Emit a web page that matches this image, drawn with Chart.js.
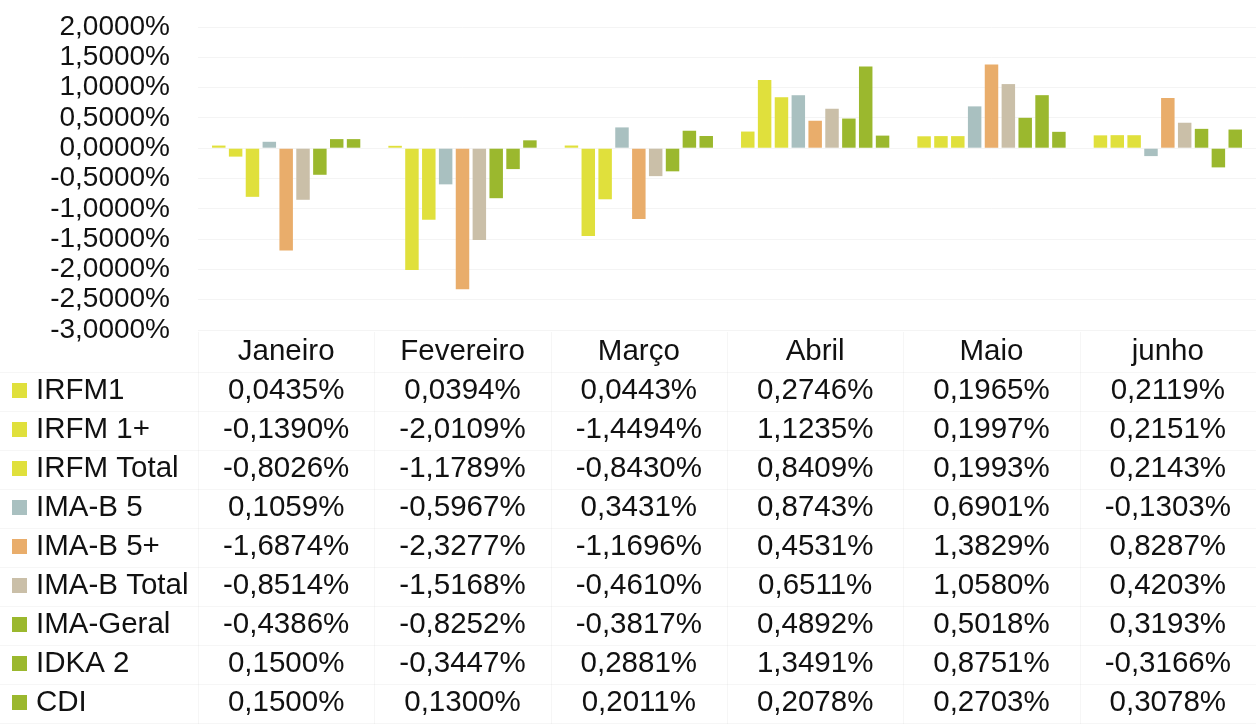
<!DOCTYPE html>
<html>
<head>
<meta charset="utf-8">
<script src="https://cdn.jsdelivr.net/npm/chart.js@4"></script>
<style>
  html, body { margin: 0; padding: 0; background: #fff; }
  #wrap { width: 1256px; height: 724px; }
</style>
</head>
<body>
<div id="wrap"><canvas id="myChart" width="1256" height="724"></canvas></div>
<script>
// data block

const months = ['Janeiro', 'Fevereiro', 'Março', 'Abril', 'Maio', 'junho'];

const irfm1      = [0.0435, 0.0394, 0.0443, 0.2746, 0.1965, 0.2119];
const irfm1Plus  = [-0.1390, -2.0109, -1.4494, 1.1235, 0.1997, 0.2151];
const irfmTotal  = [-0.8026, -1.1789, -0.8430, 0.8409, 0.1993, 0.2143];
const imaB5      = [0.1059, -0.5967, 0.3431, 0.8743, 0.6901, -0.1303];
const imaB5Plus  = [-1.6874, -2.3277, -1.1696, 0.4531, 1.3829, 0.8287];
const imaBTotal  = [-0.8514, -1.5168, -0.4610, 0.6511, 1.0580, 0.4203];
const imaGeral   = [-0.4386, -0.8252, -0.3817, 0.4892, 0.5018, 0.3193];
const idka2      = [0.1500, -0.3447, 0.2881, 1.3491, 0.8751, -0.3166];
const cdi        = [0.1500, 0.1300, 0.2011, 0.2078, 0.2703, 0.3078];

const yTicks = [2, 1.5, 1, 0.5, 0, -0.5, -1, -1.5, -2, -2.5, -3];

const yellow = '#e0e03c';
const green = '#9bb82e';

function fmt(v) {
  return v.toFixed(4).replace('.', ',') + '%';
}

const data = {
  labels: months,
  datasets: [
    { label: 'IRFM1', data: irfm1, backgroundColor: yellow },
    { label: 'IRFM 1+', data: irfm1Plus, backgroundColor: yellow },
    { label: 'IRFM Total', data: irfmTotal, backgroundColor: yellow },
    { label: 'IMA-B 5', data: imaB5, backgroundColor: '#a9c0c0' },
    { label: 'IMA-B 5+', data: imaB5Plus, backgroundColor: '#e9ad6b' },
    { label: 'IMA-B Total', data: imaBTotal, backgroundColor: '#cabfa8' },
    { label: 'IMA-Geral', data: imaGeral, backgroundColor: green },
    { label: 'IDKA 2', data: idka2, backgroundColor: green },
    { label: 'CDI', data: cdi, backgroundColor: green },
  ]
};

const FAMILY = '"Liberation Sans", Arial, sans-serif';
const FONT = '29.5px ' + FAMILY;
const TEXT = '#111';

// data table drawn under the plot, columns follow the x scale
const dataTable = {
  id: 'dataTable',
  afterDraw(chart) {
    const ctx = chart.ctx;
    const x = chart.scales.x;
    const left = 198;
    const right = chart.width;
    const headerY = 352;
    const rowH = 39;
    const firstRow = 391;

    ctx.save();

    // faint table lines
    ctx.strokeStyle = 'rgba(0,0,0,0.035)';
    ctx.lineWidth = 1;
    for (let r = 0; r <= chart.data.datasets.length; r++) {
      const yy = Math.round(firstRow - rowH / 2 + r * rowH) + 0.5;
      ctx.beginPath();
      ctx.moveTo(0, yy);
      ctx.lineTo(right, yy);
      ctx.stroke();
    }
    const step = x.getPixelForValue(1) - x.getPixelForValue(0);
    for (let i = 0; i <= months.length; i++) {
      const xx = Math.round(left + i * step) + 0.5;
      ctx.beginPath();
      ctx.moveTo(xx, 332);
      ctx.lineTo(xx, chart.height);
      ctx.stroke();
    }

    ctx.font = FONT;
    ctx.fillStyle = TEXT;
    ctx.textBaseline = 'middle';
    ctx.textAlign = 'center';
    months.forEach((m, i) => {
      ctx.fillText(m, x.getPixelForValue(i), headerY);
    });

    chart.data.datasets.forEach((ds, r) => {
      const yy = firstRow + r * rowH;
      ctx.fillStyle = ds.backgroundColor;
      ctx.fillRect(12, yy - 8, 15, 15);
      ctx.fillStyle = TEXT;
      ctx.textAlign = 'left';
      ctx.fillText(ds.label, 36, yy);
      ctx.textAlign = 'center';
      ds.data.forEach((v, i) => {
        ctx.fillText(fmt(v), x.getPixelForValue(i), yy);
      });
    });

    ctx.restore();
  }
};

const config = {
  type: 'bar',
  data: data,
  options: {
    responsive: false,
    animation: false,
    layout: {
      padding: { top: 27, bottom: 394, right: 0, left: 0 }
    },
    datasets: {
      bar: {
        categoryPercentage: 0.86,
        barPercentage: 0.8,
      }
    },
    plugins: {
      legend: { display: false },
      tooltip: { enabled: false },
      title: { display: false }
    },
    scales: {
      x: {
        display: false,
      },
      y: {
        min: -3,
        max: 2,
        afterFit(scale) {
          scale.width = 198;
          scale.paddingTop = 0;
          scale.paddingBottom = 0;
        },
        afterBuildTicks(scale) {
          scale.ticks = yTicks.map(v => ({ value: v }));
        },
        border: { display: false },
        grid: {
          color: 'rgba(0,0,0,0.045)',
          drawTicks: false,
        },
        ticks: {
          autoSkip: false,
          padding: 28,
          color: TEXT,
          font: { family: FAMILY, size: 28 },
          callback: v => fmt(v),
        }
      }
    }
  },
  plugins: [dataTable]
};

// render the chart

var myChart = new Chart(
  document.getElementById('myChart'),
  config
);
</script>
</body>
</html>
